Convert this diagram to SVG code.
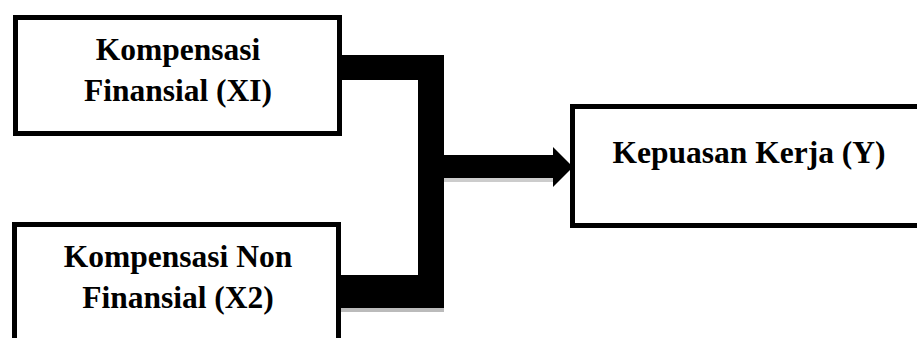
<svg xmlns="http://www.w3.org/2000/svg" width="917" height="338" viewBox="0 0 917 338">
<style>
.box{fill:#fff;stroke:#000;stroke-width:5}
.lbl{font-family:"Liberation Serif","Times New Roman",serif;font-weight:bold;font-size:31.5px;fill:#000;text-anchor:middle}
.conn{fill:#000}
</style>
<rect width="917" height="338" fill="#fff"/>
<g id="connectors">
<polygon class="conn" points="342,55 444,55 444,308 340,308 340,275 418,275 418,80 342,80"/>
<rect x="340" y="308" width="104" height="4" fill="#bbb"/>
<rect class="conn" x="444" y="155" width="111" height="23"/>
<rect x="444" y="178" width="111" height="4" fill="#ccc"/>
<polygon class="conn" points="553,147 573,167 553,187"/>
</g>
<g id="node-x1">
<rect class="box" x="15.5" y="17.5" width="324" height="116"/>
<text class="lbl" x="178" y="60">Kompensasi</text>
<text class="lbl" x="178" y="101">Finansial (XI)</text>
</g>
<g id="node-x2">
<rect class="box" x="14.5" y="224.5" width="324" height="130"/>
<text class="lbl" x="178" y="267">Kompensasi Non</text>
<text class="lbl" x="178" y="308">Finansial (X2)</text>
</g>
<g id="node-y">
<rect class="box" x="572.5" y="106.5" width="360" height="119"/>
<text class="lbl" x="749" y="163">Kepuasan Kerja (Y)</text>
</g>
</svg>
